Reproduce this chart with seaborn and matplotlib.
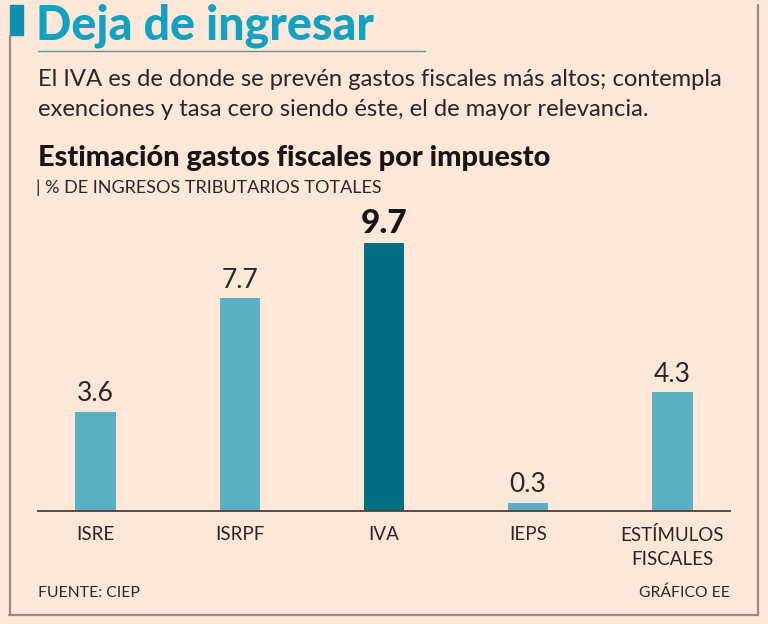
import matplotlib
matplotlib.use("Agg")
import matplotlib.pyplot as plt
import seaborn as sns
from matplotlib.lines import Line2D
from matplotlib.patches import Rectangle

categories = ["ISRE", "ISRPF", "IVA", "IEPS", "ESTÍMULOS\nFISCALES"]
values = [3.6, 7.7, 9.7, 0.3, 4.3]
value_labels = ["3.6", "7.7", "9.7", "0.3", "4.3"]
highlight = "IVA"

BG = "#fde7d8"
LIGHT = "#5aafc2"
DARK = "#016f80"
TEAL = "#12a1c2"
TXT = "#2e2624"
BORDER = "#9c8a80"

sns.set_theme(style="white")
plt.rcParams["font.family"] = ["Lato", "DejaVu Sans"]

W, H = 768, 624
fig = plt.figure(figsize=(W / 100, H / 100), dpi=100, facecolor=BG)

def fx(x):
    return x / W

def fy(y):
    return 1 - y / H

ax = fig.add_axes([fx(38), fy(511), (730 - 38) / W, (511 - 235) / H])
ax.set_facecolor(BG)
palette = {c: (DARK if c == highlight else LIGHT) for c in categories}
sns.barplot(x=categories, y=values, hue=categories, palette=palette,
            legend=False, width=0.28, saturation=1, linewidth=0, ax=ax)
ax.set_xlim(-0.4, len(categories) - 0.6)
ax.set_ylim(0, 10)
for s in ["top", "left", "right"]:
    ax.spines[s].set_visible(False)
ax.spines["bottom"].set_color("#4a3e3a")
ax.spines["bottom"].set_linewidth(1.3)
ax.set_yticks([])
ax.tick_params(axis="x", length=0, pad=11, labelsize=13.5, colors=TXT)
for lab in ax.get_xticklabels():
    lab.set_fontweight("normal")
    lab.set_linespacing(1.45)
ax.set_xlabel("")
ax.set_ylabel("")

for i, (c, v, t) in enumerate(zip(categories, values, value_labels)):
    if c == highlight:
        ax.text(i, v + 0.2, t, ha="center", va="bottom", fontsize=24,
                fontweight="black", color="#1a1414")
    else:
        ax.text(i, v + 0.2, t, ha="center", va="bottom", fontsize=19,
                fontweight="normal", color=TXT)

# decorations: border
fig.add_artist(Line2D([fx(10), fx(10)], [fy(36), fy(615)], color=BORDER, lw=1.6))
fig.add_artist(Line2D([fx(9), fx(758)], [fy(615), fy(615)], color=BORDER, lw=1.6))
fig.add_artist(Line2D([fx(758), fx(758)], [fy(5), fy(615)], color=BORDER, lw=1.6))
fig.add_artist(Rectangle((fx(10), fy(35)), 13 / W, 30 / H, color="#0e8fae",
                         transform=fig.transFigure))
fig.add_artist(Line2D([fx(38), fx(425)], [fy(51), fy(51)], color="#3aa6a8", lw=1))

# texts
fig.text(fx(36), fy(26), "Deja de ingresar", fontsize=33.5, fontweight="black",
         color=TEAL, va="center", ha="left")
fig.text(fx(38), fy(79), "El IVA es de donde se prevén gastos fiscales más altos; contempla",
         fontsize=17.1, fontweight="normal", color=TXT, va="center", ha="left")
fig.text(fx(38), fy(110), "exenciones y tasa cero siendo éste, el de mayor relevancia.",
         fontsize=17.1, fontweight="normal", color=TXT, va="center", ha="left")
fig.text(fx(38), fy(158), "Estimación gastos fiscales por impuesto", fontsize=20.8,
         fontweight="black", color="#1a1414", va="center", ha="left")
fig.text(fx(36), fy(188), "| % DE INGRESOS TRIBUTARIOS TOTALES", fontsize=13,
         fontweight="normal", color=TXT, va="center", ha="left")
fig.text(fx(38), fy(593), "FUENTE: CIEP", fontsize=11.3, fontweight="normal",
         color=TXT, va="center", ha="left")
fig.text(fx(730), fy(593), "GRÁFICO EE", fontsize=11.3, fontweight="normal",
         color=TXT, va="center", ha="right")

fig.savefig("out.png", dpi=100, facecolor=BG)
